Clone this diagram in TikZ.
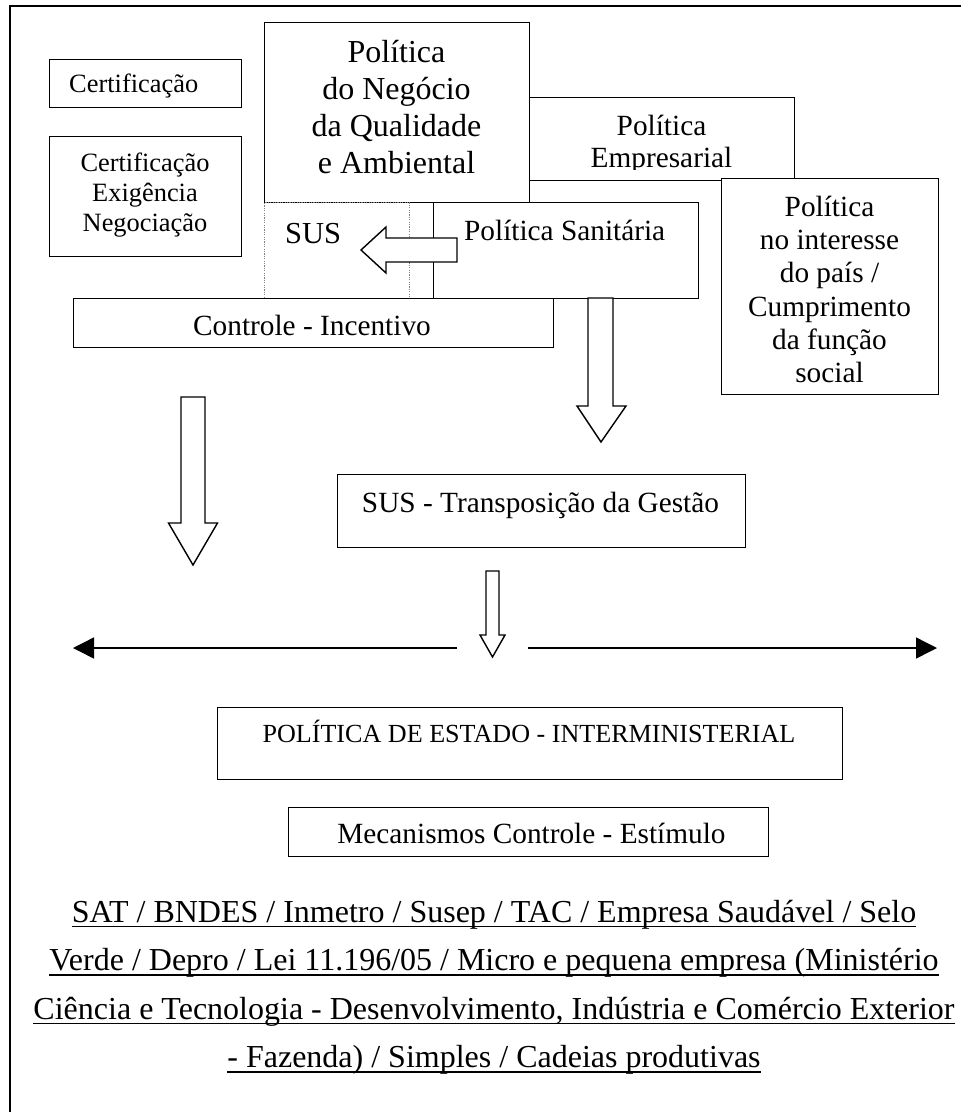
\documentclass[tikz,border=0pt]{standalone}
\usepackage{fontspec}
\setmainfont{Liberation Serif}
\usetikzlibrary{arrows.meta}

\begin{document}
\begin{tikzpicture}[x=1pt,y=-1pt,
  box/.style={draw, line width=1.4pt, fill=white, inner sep=0pt, anchor=north west},
  dotbox/.style={draw=gray, line width=1pt, dash pattern=on 1.2pt off 1.2pt, fill=white, inner sep=0pt, anchor=north west},
  txt/.style={inner sep=0pt, anchor=base},
  txtw/.style={inner sep=0pt, anchor=base west},
  fa/.style={font=\fontsize{26.4}{30}\selectfont},
  fb/.style={font=\fontsize{29.3}{33}\selectfont},
  fc/.style={font=\fontsize{30.5}{34}\selectfont},
  fd/.style={font=\fontsize{32}{36}\selectfont},
  blockarrow/.style={draw, line width=1.4pt, fill=white, line join=miter},
  linearrow/.style={line width=1.4pt, -{Triangle[length=21pt,width=21pt]}},
  uline/.style={line width=1.6pt}
]
\useasboundingbox (0,0) rectangle (961,1112);

% outer frame
\draw[line width=2.2pt, line join=miter] (10,1120) -- (10,6) -- (970,6);

% left column
\node[box, minimum width=192pt, minimum height=48pt] (cert) at (49,59) {};
\node[txtw, fa] (certT) at (69,92) {Certificação};
\node[box, minimum width=192pt, minimum height=120pt] (cen) at (49,136) {};
\node[txt, fa] (cen1) at (145,171) {Certificação};
\node[txt, fa] (cen2) at (145,201) {Exigência};
\node[txt, fa] (cen3) at (145,231) {Negociação};

% business / quality / environmental policy
\node[box, minimum width=265pt, minimum height=180pt] (neg) at (264,22) {};
\node[txt, fd] (neg1) at (396.5,62) {Política};
\node[txt, fd] (neg2) at (396.5,99) {do Negócio};
\node[txt, fd] (neg3) at (396.5,136) {da Qualidade};
\node[txt, fd] (neg4) at (396.5,173) {e Ambiental};

% corporate policy (text cut by the box bottom)
\node[box, minimum width=265pt, minimum height=83pt] (emp) at (529,97) {};
\node[txt, fb] (emp1) at (661.5,135) {Política};
\begin{scope}
  \clip (529,97) rectangle (794,169);
  \node[txt, fb] (emp2) at (661.5,167) {Empresarial};
\end{scope}

% SUS and sanitary policy
\node[dotbox, minimum width=145pt, minimum height=96pt] (sus) at (264,202) {};
\node[txtw, fc] (susT) at (285,243) {SUS};
\node[box, minimum width=265pt, minimum height=96pt] (san) at (433,202) {};
\node[txtw, fb] (sanT) at (464,240) {Política Sanitária};

% national interest policy
\node[box, minimum width=217pt, minimum height=216pt] (pais) at (721,178) {};
\node[txt, fb] (pais1) at (829.5,216) {Política};
\node[txt, fb] (pais2) at (829.5,249.3) {no interesse};
\node[txt, fb] (pais3) at (829.5,282.6) {do país /};
\node[txt, fb] (pais4) at (829.5,316) {Cumprimento};
\node[txt, fb] (pais5) at (829.5,349.3) {da função};
\node[txt, fb] (pais6) at (829.5,382.6) {social};

% control - incentive
\node[box, minimum width=480pt, minimum height=49pt] (ctrl) at (73,298) {};
\node[txt, fb] (ctrlT) at (312,335) {Controle - Incentivo};

% block arrow from sanitary policy into SUS
\draw[blockarrow] (457,238) -- (457,262) -- (386,262) -- (386,273) -- (361,250)
  -- (386,227) -- (386,238) -- cycle;

% block arrow down from sanitary policy
\draw[blockarrow] (588,298) -- (613,298) -- (613,406) -- (626,406) -- (601,442)
  -- (577,406) -- (588,406) -- cycle;

% block arrow down on the left
\draw[blockarrow] (181,397) -- (205,397) -- (205,523) -- (217.5,523) -- (193,565)
  -- (168.5,523) -- (181,523) -- cycle;

% SUS management transposition
\node[box, minimum width=408pt, minimum height=73pt] (transp) at (337,474) {};
\node[txt, fb] (transpT) at (540.5,512) {SUS - Transposição da Gestão};

% small block arrow
\draw[blockarrow] (486,571) -- (499,571) -- (499,635) -- (505,635) -- (492.5,657)
  -- (480,635) -- (486,635) -- cycle;

% horizontal arrows
\coordinate (hl0) at (457,648);
\coordinate (hl1) at (73,648);
\coordinate (hr0) at (528,648);
\coordinate (hr1) at (937,648);
\draw[linearrow] (hl0) -- (hl1);
\draw[linearrow] (hr0) -- (hr1);

% state policy
\node[box, minimum width=625pt, minimum height=72pt] (estado) at (217,707) {};
\node[txt, font=\fontsize{26.1}{30}\selectfont] (estadoT) at (529,742) {POLÍTICA DE ESTADO - INTERMINISTERIAL};

% mechanisms
\node[box, minimum width=480pt, minimum height=49pt] (mec) at (288,807) {};
\node[txt, fb] (mecT) at (531.5,843) {Mecanismos Controle - Estímulo};

% underlined list
\node[txt, fd] (l1) at (494,922) {SAT / BNDES / Inmetro / Susep / TAC / Empresa Saudável / Selo};
\node[txt, fd] (l2) at (494,970.5) {Verde / Depro / Lei 11.196/05 / Micro e pequena empresa (Ministério};
\node[txt, fd] (l3) at (494,1019) {Ciência e Tecnologia - Desenvolvimento, Indústria e Comércio Exterior};
\node[txt, fd] (l4) at (494,1067.5) {- Fazenda) / Simples / Cadeias produtivas};
\foreach \n in {l1,l2,l3,l4}
  \draw[uline] ([yshift=-4.5pt]\n.base west) -- ([yshift=-4.5pt]\n.base east);
\end{tikzpicture}
\end{document}
